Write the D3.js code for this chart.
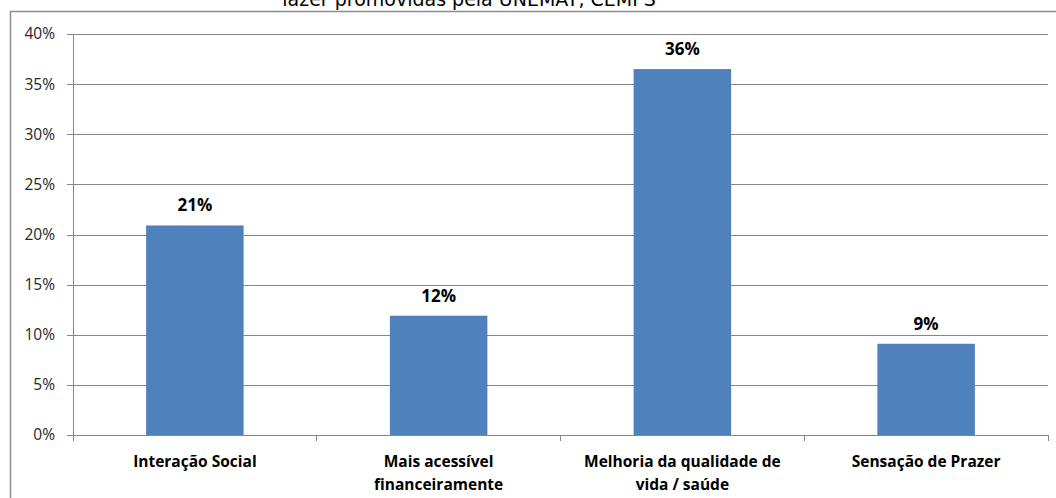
<!DOCTYPE html>
<html>
<head>
<meta charset="utf-8">
<script src="https://cdn.jsdelivr.net/npm/d3@7"></script>
<style>
  html, body { margin: 0; padding: 0; background: #fff; }
  svg { display: block; }
</style>
</head>
<body>
<svg id="chart" width="1056" height="498"></svg>
<script>
// Data
const categories = [
  ["Interação Social"],
  ["Mais acessível", "financeiramente"],
  ["Melhoria da qualidade de", "vida / saúde"],
  ["Sensação de Prazer"]
];
const values = [20.9, 11.9, 36.5, 9.1];
const valueLabels = ["21%", "12%", "36%", "9%"];
const yTicks = [0, 5, 10, 15, 20, 25, 30, 35, 40];
const titleText = "lazer promovidas pela UNEMAT, CEMPS";

const FONT = "'Open Sans', Lato, sans-serif";
const GRID = "#868686";
const BAR = "#4F81BD";

const svg = d3.select("#chart");
const margin = { top: 34, right: 8, bottom: 63, left: 73 };
const width = 1056, height = 498;
const w = width - margin.left - margin.right;
const h = height - margin.top - margin.bottom;

// outer chart frame (only top + left visible in the crop)
svg.append("path")
  .attr("d", `M10.5,${height} V11.5 H${width}`)
  .attr("fill", "none")
  .attr("stroke", "#8c8c8c")
  .attr("stroke-width", 1.5);

// clipped title, only the bottom of the glyphs shows
svg.append("text")
  .attr("x", 469)
  .attr("y", 6)
  .attr("text-anchor", "middle")
  .attr("font-family", "'DejaVu Sans', sans-serif")
  .attr("font-size", "19px")
  .attr("fill", "#000")
  .text(titleText);

const g = svg.append("g")
  .attr("transform", `translate(${margin.left},${margin.top})`);

const x = d3.scaleBand()
  .domain(d3.range(categories.length))
  .range([0, w])
  .paddingInner(0.6)
  .paddingOuter(0.3);

const y = d3.scaleLinear()
  .domain([0, 40])
  .range([h, 0]);

// gridlines + y labels
g.append("g")
  .call(d3.axisLeft(y)
    .tickValues(yTicks)
    .tickFormat(d => d + "%")
    .tickSize(-w)
    .tickPadding(18))
  .call(a => a.select(".domain").remove())
  .call(a => a.selectAll(".tick line")
    .attr("stroke", GRID)
    .attr("x1", -6)
    .attr("shape-rendering", "crispEdges"))
  .call(a => a.selectAll(".tick text")
    .attr("font-family", FONT)
    .attr("font-size", "15.5px")
    .attr("fill", "#262626"));

// vertical axis line
g.append("line")
  .attr("x1", 0).attr("x2", 0)
  .attr("y1", 0).attr("y2", h)
  .attr("stroke", GRID)
  .attr("shape-rendering", "crispEdges");

// bars
g.selectAll(".bar")
  .data(values)
  .join("rect")
  .attr("class", "bar")
  .attr("x", (d, i) => x(i))
  .attr("width", x.bandwidth())
  .attr("y", d => y(d))
  .attr("height", d => h - y(d))
  .attr("fill", BAR);

// value labels
g.selectAll(".val")
  .data(values)
  .join("text")
  .attr("class", "val")
  .attr("x", (d, i) => x(i) + x.bandwidth() / 2)
  .attr("y", d => y(d) - 14)
  .attr("text-anchor", "middle")
  .attr("font-family", FONT)
  .attr("font-weight", "bold")
  .attr("font-size", "17px")
  .attr("fill", "#000")
  .text((d, i) => valueLabels[i]);

// x axis baseline + category boundary ticks
g.append("line")
  .attr("x1", 0).attr("x2", w)
  .attr("y1", h).attr("y2", h)
  .attr("stroke", GRID)
  .attr("shape-rendering", "crispEdges");

g.selectAll(".cat-tick")
  .data(d3.range(categories.length + 1))
  .join("line")
  .attr("class", "cat-tick")
  .attr("x1", i => i * w / categories.length)
  .attr("x2", i => i * w / categories.length)
  .attr("y1", h).attr("y2", h + 6)
  .attr("stroke", GRID)
  .attr("shape-rendering", "crispEdges");

// category labels
const cat = g.selectAll(".cat")
  .data(categories)
  .join("text")
  .attr("class", "cat")
  .attr("text-anchor", "middle")
  .attr("font-family", FONT)
  .attr("font-weight", "bold")
  .attr("font-size", "15.5px")
  .attr("fill", "#000");

cat.selectAll("tspan")
  .data((d, i) => d.map(line => ({ line, i })))
  .join("tspan")
  .attr("x", d => x(d.i) + x.bandwidth() / 2)
  .attr("y", (d, j) => h + 32 + j * 23)
  .text(d => d.line);
</script>
</body>
</html>
